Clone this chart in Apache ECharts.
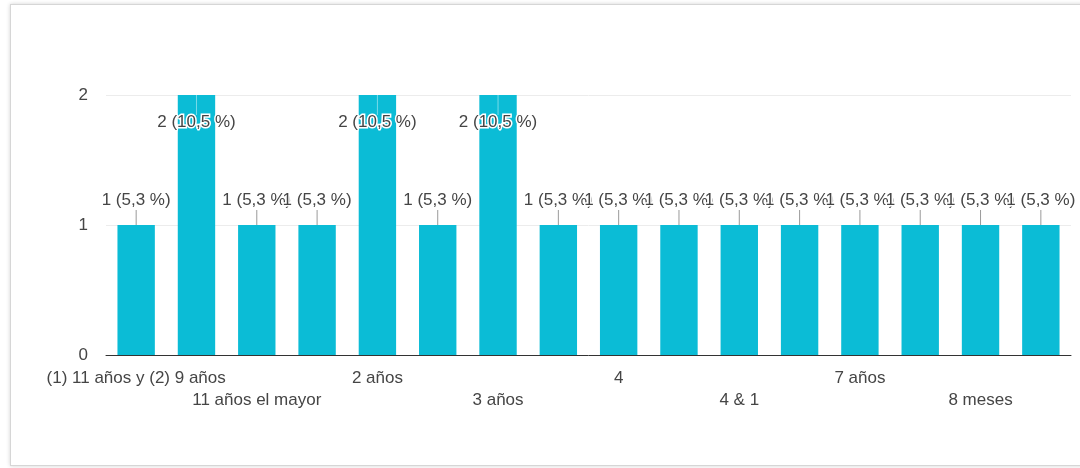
<!DOCTYPE html>
<html>
<head>
<meta charset="utf-8">
<script src="https://cdn.jsdelivr.net/npm/echarts@6/dist/echarts.min.js"></script>
<style>
  html, body { margin: 0; padding: 0; background: #fff; }
  #wrap { position: relative; width: 1080px; height: 468px; overflow: hidden; background: #fff; }
  #card { position: absolute; left: 10px; top: 4px; width: 1100px; height: 460px;
          border: 1px solid #d6d6d6; box-shadow: 0 0 4px rgba(0,0,0,0.18); background: #fff; }
  #chart { position: absolute; left: 0; top: 0; width: 1080px; height: 468px; }
</style>
</head>
<body>
<div id="wrap">
  <div id="card"></div>
  <div id="chart"></div>
</div>
<script>
const categories = [
  "(1) 11 años y (2) 9 años", "1 año", "11 años el mayor", "12 años",
  "2 años", "2 y 4 años", "3 años", "3 y 6 años",
  "4", "4 años", "4 & 1", "5 años",
  "7 años", "8 años", "8 meses", "9 años"
];
const counts = [1, 2, 1, 1, 2, 1, 2, 1, 1, 1, 1, 1, 1, 1, 1, 1];
const percents = ["5,3", "10,5", "5,3", "5,3", "10,5", "5,3", "10,5", "5,3",
                  "5,3", "5,3", "5,3", "5,3", "5,3", "5,3", "5,3", "5,3"];
const yTicks = [0, 1, 2];

const FONT = "'Liberation Sans', Arial, sans-serif";
const barColor = '#0bbcd6';
const textColor = '#454545';

const chart = echarts.init(document.getElementById('chart'), null, { renderer: 'canvas' });

const barData = counts.map((v, i) => {
  const inside = v >= yTicks[yTicks.length - 1];
  return {
    value: v,
    label: {
      show: true,
      position: inside ? 'insideTop' : 'top',
      distance: inside ? 19 : 16,
      formatter: () => v + ' (' + percents[i] + ' %)'
    }
  };
});

const xLabelBase = {
  interval: 0,
  showMinLabel: true,
  showMaxLabel: true,
  hideOverlap: false,
  color: textColor,
  fontFamily: FONT,
  fontSize: 17
};

chart.setOption({
  animation: false,
  grid: { left: 106, right: 9, top: 95, bottom: 113, containLabel: false },
  xAxis: [
    {
      type: 'category',
      data: categories,
      position: 'bottom',
      axisLine: { show: true, lineStyle: { color: '#333', width: 1 } },
      axisTick: { show: false },
      axisLabel: Object.assign({}, xLabelBase, {
        margin: 15,
        formatter: (val, idx) => (idx % 4 === 0 ? val : '')
      }),
      splitLine: { show: false }
    },
    {
      type: 'category',
      data: categories,
      position: 'bottom',
      axisLine: { show: false },
      axisTick: { show: false },
      axisLabel: Object.assign({}, xLabelBase, {
        margin: 37,
        formatter: (val, idx) => (idx % 4 === 2 ? val : '')
      }),
      splitLine: { show: false }
    }
  ],
  yAxis: {
    type: 'value',
    min: yTicks[0],
    max: yTicks[yTicks.length - 1],
    interval: 1,
    axisLine: { show: false },
    axisTick: { show: false },
    axisLabel: { margin: 18, color: textColor, fontFamily: FONT, fontSize: 17 },
    splitLine: { show: true, lineStyle: { color: '#ececec', width: 1 } }
  },
  series: [
    {
      type: 'bar',
      xAxisIndex: 0,
      data: barData,
      barWidth: '62%',
      itemStyle: { color: barColor },
      label: {
        color: textColor,
        fontFamily: FONT,
        fontSize: 17,
        textBorderColor: '#fff',
        textBorderWidth: 3
      },
      z: 2
    },
    {
      type: 'custom',
      xAxisIndex: 0,
      data: counts.map((v, i) => [i, v]),
      z: 3,
      silent: true,
      renderItem: (params, api) => {
        const i = api.value(0), v = api.value(1);
        const p = api.coord([i, v]);
        const inside = v >= yTicks[yTicks.length - 1];
        if (inside) {
          return { type: 'line', shape: { x1: p[0], y1: p[1], x2: p[0], y2: p[1] + 20 },
                   style: { stroke: 'rgba(255,255,255,0.45)', lineWidth: 1 } };
        }
        return { type: 'line', shape: { x1: p[0], y1: p[1], x2: p[0], y2: p[1] - 15 },
                 style: { stroke: '#9a9a9a', lineWidth: 1 } };
      }
    }
  ]
});
</script>
</body>
</html>
